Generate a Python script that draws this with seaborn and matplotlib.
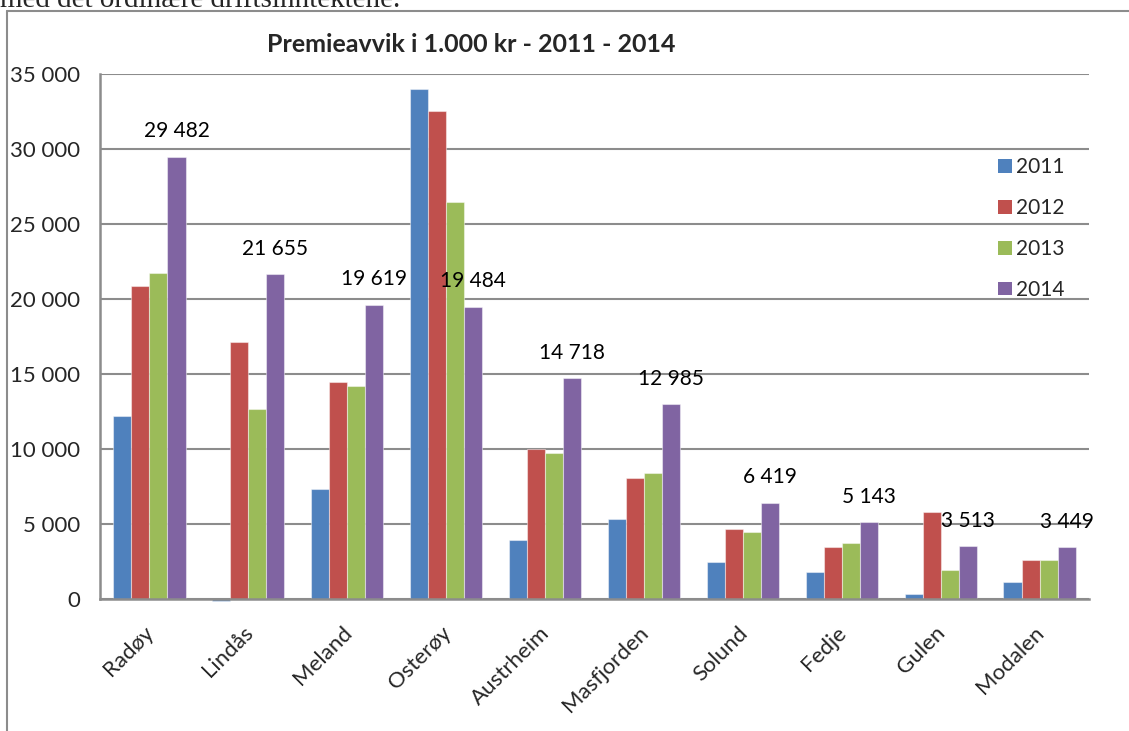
import matplotlib
matplotlib.use("Agg")
import matplotlib.pyplot as plt
import seaborn as sns
import pandas as pd
from matplotlib.lines import Line2D
from matplotlib.patches import Patch
from matplotlib.transforms import ScaledTranslation

# ---- data ----
kommuner = ["Radøy", "Lindås", "Meland", "Osterøy", "Austrheim",
            "Masfjorden", "Solund", "Fedje", "Gulen", "Modalen"]
years = ["2011", "2012", "2013", "2014"]
v2011 = [12200, -120, 7330, 33980, 3930, 5330, 2500, 1800, 330, 1130]
v2012 = [20900, 17110, 14470, 32550, 10000, 8070, 4700, 3500, 5800, 2600]
v2013 = [21730, 12670, 14180, 26470, 9730, 8400, 4500, 3750, 1930, 2600]
v2014 = [29482, 21655, 19619, 19484, 14718, 12985, 6419, 5143, 3513, 3449]
yticks = [0, 5000, 10000, 15000, 20000, 25000, 30000, 35000]
title = "Premieavvik i 1.000 kr - 2011 - 2014"
colors = ["#4F81BD", "#C0504D", "#9BBB59", "#8064A2"]

rows = []
for yr, vals in zip(years, [v2011, v2012, v2013, v2014]):
    for k, v in zip(kommuner, vals):
        rows.append({"Kommune": k, "År": yr, "Verdi": v})
df = pd.DataFrame(rows)

sns.set_theme(style="white")
plt.rcParams["font.family"] = ["Lato", "DejaVu Sans"]

fig = plt.figure(figsize=(11.29, 7.31), dpi=100)
ax = fig.add_axes([100 / 1129, 1 - 599 / 731, 989 / 1129, 525 / 731])

sns.barplot(data=df, x="Kommune", y="Verdi", hue="År", order=kommuner,
            hue_order=years, palette=colors, width=0.73, dodge=True,
            saturation=1, ax=ax, legend=False, edgecolor=(1, 1, 1, 0.45),
            linewidth=0.8)
for cont in ax.containers:
    for p in cont:
        p.set_clip_on(False)

ax.set_ylim(0, 35000)
ax.set_xlim(-0.5, len(kommuner) - 0.5)
ax.set_yticks(yticks)
ax.set_yticklabels([f"{t:,}".replace(",", " ") for t in yticks], fontsize=16)
ax.set_xlabel("")
ax.set_ylabel("")
ax.yaxis.grid(True, color="#8c8c8c", linewidth=1.5)
ax.set_axisbelow(True)
ax.tick_params(axis="y", length=0, pad=14)
ax.tick_params(axis="x", length=0, pad=17)
offset = ScaledTranslation(-4 / 72, 0, fig.dpi_scale_trans)
for lbl in ax.get_xticklabels():
    lbl.set_rotation(45)
    lbl.set_ha("right")
    lbl.set_rotation_mode("anchor")
    lbl.set_fontsize(16)
    lbl.set_transform(lbl.get_transform() + offset)
for s in ["top", "right"]:
    ax.spines[s].set_visible(False)
for s in ["left", "bottom"]:
    ax.spines[s].set_color("#8c8c8c")
    ax.spines[s].set_linewidth(1.8)
    ax.spines[s].set_zorder(3)

# data labels on 2014 bars
cont = ax.containers[3]
ax.bar_label(cont, labels=[f"{v:,}".replace(",", " ") for v in v2014],
             padding=11, fontsize=15, color="black")

# legend
handles = [Patch(facecolor=c, edgecolor="none") for c in colors]
fig.legend(handles, years, loc="upper left", bbox_to_anchor=(990 / 1129, 1 - 149 / 731),
           frameon=False, fontsize=15, handlelength=0.65, handleheight=0.65,
           labelspacing=1.0, handletextpad=0.2, borderaxespad=0)

fig.text(471 / 1129, 1 - 45 / 731, title, fontsize=18, fontweight="bold",
         ha="center", va="center")

# surrounding frame and cut-off document text
fig.add_artist(Line2D([7 / 1129, 7 / 1129], [0, 1 - 11 / 731], color="#8c8c8c",
                      linewidth=1.5, transform=fig.transFigure))
fig.add_artist(Line2D([7 / 1129, 1], [1 - 11 / 731, 1 - 11 / 731], color="#8c8c8c",
                      linewidth=1.5, transform=fig.transFigure))
fig.text(0 / 1129, 1 - 7 / 731, "med det ordinære driftsinntektene.",
         family=["Liberation Serif"], fontsize=21, ha="left", va="baseline")

fig.savefig("out.png", dpi=100)
